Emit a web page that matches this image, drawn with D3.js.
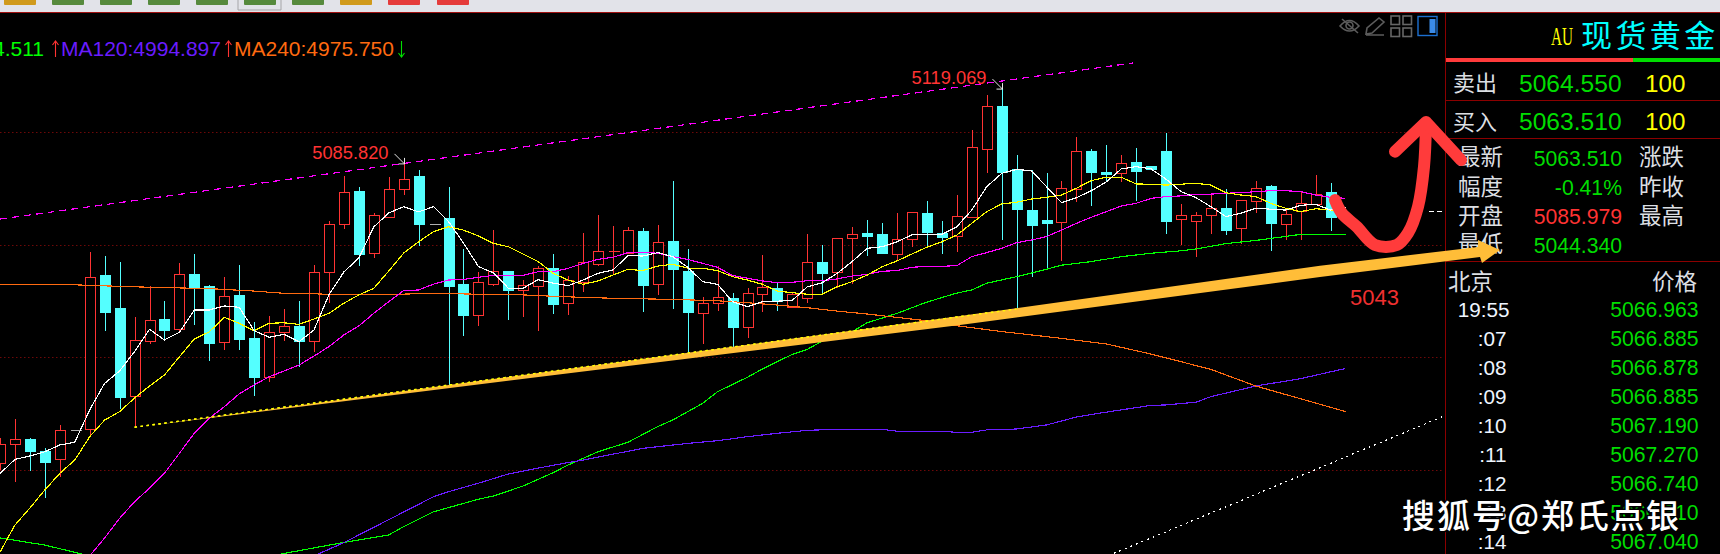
<!DOCTYPE html>
<html><head><meta charset="utf-8">
<script src="https://cdnjs.cloudflare.com/ajax/libs/d3/7.8.5/d3.min.js"></script>
<style>html,body{margin:0;padding:0;background:#000;overflow:hidden}svg{display:block}</style>
</head><body><svg id="c" width="1720" height="554"></svg>
<script>
const opens=[4952.9,4961.2,4963.4,4958.2,4954.8,4967.4,4967.9,5036.4,5021.8,4982.8,
5007.2,5016.9,5012.6,5036.9,5031.6,5006.8,5027.6,5008.4,4991.2,5011.2,
5013.8,5007.2,5037.9,5059.0,5073.8,5046.4,5062.4,5074.5,5080.4,5059.0,
5061.8,5032.4,5018.8,5032.6,5038.2,5029.9,5031.7,5039.6,5024.1,5033.2,
5041.5,5047.0,5046.2,5056.0,5032.6,5051.6,5038.2,5019.7,5024.1,5026.2,
5013.5,5028.1,5030.7,5022.1,5026.4,5042.2,5037.9,5053.0,5055.1,5054.7,
5045.9,5052.6,5064.0,5055.2,5053.9,5062.4,5092.6,5111.6,5083.4,5065.3,
5060.9,5060.1,5074.7,5091.6,5082.2,5081.9,5086.7,5084.9,5091.6,5061.5,
5060.6,5063.2,5066.2,5057.2,5069.5,5076.0,5059.2,5064.8,5068.1,5073.3];
const closes=[4961.3,4963.4,4958.2,4953.3,4967.4,4967.4,5035.4,5020.1,4982.2,5007.4,
5016.3,5012.0,5036.9,5031.1,5006.2,5027.0,5008.0,4991.2,5011.0,5013.6,
5007.1,5037.6,5059.0,5073.2,5045.8,5063.0,5074.5,5079.2,5059.2,5059.0,
5031.7,5018.8,5033.2,5038.4,5029.8,5031.9,5039.4,5023.6,5034.1,5042.1,
5047.0,5047.0,5056.3,5032.0,5051.0,5039.1,5020.0,5023.9,5026.5,5013.3,
5028.3,5031.0,5024.8,5027.9,5042.1,5037.3,5052.8,5054.5,5053.8,5046.2,
5052.3,5064.3,5055.6,5053.3,5062.5,5093.2,5111.4,5082.2,5065.9,5058.7,
5059.6,5075.0,5091.4,5082.2,5081.3,5086.1,5082.7,5083.6,5060.4,5063.0,
5063.0,5066.1,5056.4,5069.6,5075.2,5059.7,5063.4,5068.6,5072.6,5062.2];
const highs=[4964.0,4972.4,4964.1,4959.4,4969.8,4967.4,5046.5,5044.9,5042.2,5017.8,
5031.6,5024.9,5041.6,5045.8,5032.0,5035.6,5040.9,5015.6,5018.2,5021.3,
5024.9,5040.9,5060.4,5080.4,5075.6,5063.9,5080.0,5085.82,5083.0,5059.0,
5075.6,5048.0,5037.6,5056.4,5038.2,5034.2,5040.4,5045.8,5036.0,5055.1,
5063.1,5058.2,5057.6,5057.3,5058.7,5078.2,5048.0,5026.5,5040.4,5028.4,
5030.7,5045.3,5032.9,5028.3,5054.7,5049.8,5052.8,5057.6,5060.9,5059.6,
5063.9,5064.3,5069.3,5060.4,5072.0,5100.9,5116.3,5119.069,5089.8,5083.1,
5081.8,5078.2,5097.6,5092.3,5094.2,5089.8,5092.8,5084.9,5099.6,5068.0,
5064.4,5072.8,5074.5,5069.6,5078.2,5076.3,5065.8,5073.8,5080.9,5077.3];
const lows=[4949.8,4944.6,4949.3,4937.5,4946.5,4967.4,4965.3,5011.7,4976.9,4968.8,
5005.8,5007.2,5010.8,5014.2,4998.2,5003.1,5003.1,4982.7,4989.0,5007.2,
4995.7,5002.4,5024.0,5056.9,5040.6,5044.1,5062.4,5072.0,5049.5,5059.0,
4987.6,5009.5,5013.9,5031.7,5016.4,5017.9,5011.6,5019.1,5018.7,5028.9,
5040.4,5036.8,5045.6,5020.1,5027.6,5021.3,5001.9,5005.8,5020.4,5004.6,
5008.6,5020.0,5020.4,5022.1,5024.0,5027.9,5030.8,5032.4,5044.9,5046.2,
5043.1,5048.9,5049.3,5045.8,5046.7,5062.4,5081.8,5052.0,5021.3,5035.7,
5039.0,5042.7,5069.0,5067.1,5077.9,5077.9,5069.3,5083.6,5054.7,5049.8,
5044.6,5054.7,5054.2,5050.2,5064.0,5047.1,5052.0,5052.0,5068.1,5056.0];

const maWhite=[4948.2,4954.5,4956.0,4957.9,4960.9,4962.1,4976.5,4988.3,4993.8,5002.4,
5012.3,5007.6,5011.0,5020.9,5020.9,5022.7,5022.1,5011.7,5008.8,5010.1,
5006.8,5012.0,5027.6,5037.8,5044.0,5057.8,5064.0,5066.8,5064.5,5066.8,
5060.2,5050.7,5040.2,5037.4,5030.6,5030.6,5034.4,5032.8,5031.7,5034.2,
5037.2,5038.7,5045.0,5044.9,5046.4,5044.6,5039.9,5033.5,5032.3,5024.6,
5022.4,5024.6,5024.8,5025.2,5031.2,5033.0,5037.2,5042.4,5048.3,5049.0,
5051.2,5054.3,5054.5,5054.5,5057.9,5065.3,5075.7,5081.6,5083.4,5082.7,
5075.7,5068.6,5070.8,5073.9,5077.8,5083.6,5084.6,5083.6,5079.0,5073.5,
5070.8,5066.8,5062.4,5063.9,5066.1,5065.7,5065.3,5067.4,5067.9,5065.3,5066.7];
const maYellow=[4913.3,4925.3,4932.9,4940.9,4948.3,4954.2,4964.6,4972.0,4975.7,4981.8,
4987.1,4992.0,5000.1,5008.0,5011.2,5017.6,5015.0,5011.7,5015.0,5015.2,
5014.5,5016.9,5019.4,5023.9,5027.6,5030.5,5038.2,5046.2,5051.2,5055.7,
5057.9,5056.4,5053.8,5050.5,5049.0,5045.7,5042.4,5037.2,5034.2,5032.3,
5033.8,5036.4,5039.0,5038.4,5040.4,5041.2,5039.5,5039.4,5038.4,5035.7,
5034.2,5032.3,5029.3,5028.6,5027.9,5027.9,5031.2,5033.5,5036.4,5040.1,
5042.7,5045.8,5048.8,5051.2,5054.2,5059.4,5064.6,5068.0,5068.8,5070.2,
5071.0,5072.0,5075.0,5078.4,5079.9,5079.9,5076.9,5076.8,5076.4,5076.8,
5077.2,5076.4,5073.0,5072.0,5071.3,5068.3,5066.1,5064.6,5065.9,5065.3,5064.9];
const maMagenta=[null,null,null,null,null,null,4911.6,4919.6,4928.3,4935.7,
4941.7,4948.3,4957.2,4966.1,4972.8,4977.9,4983.6,4987.6,4991.2,4993.8,
4996.4,5000.4,5004.6,5009.8,5013.8,5019.4,5024.6,5029.5,5029.8,5032.4,
5034.2,5034.5,5035.4,5036.3,5036.3,5036.3,5037.9,5037.9,5039.4,5041.6,
5043.4,5044.3,5046.4,5046.5,5046.1,5044.6,5043.4,5041.6,5039.9,5036.2,
5035.0,5033.8,5033.0,5033.2,5033.9,5033.9,5034.7,5036.0,5036.7,5038.1,
5038.4,5039.9,5040.2,5040.3,5040.6,5044.6,5046.4,5048.3,5050.8,5052.0,
5053.5,5056.4,5059.4,5062.1,5064.6,5067.1,5068.3,5070.5,5071.3,5071.6,
5072.3,5072.4,5072.8,5073.0,5073.5,5073.9,5073.9,5073.5,5072.0,5071.0,5070.5];
const ma60Index=[0,3,6,18,19,23,26,27,29,32,33,35,37,38,40,42,44,45,47,48,50,51,53,54,55,57,58,60,62,64,65,66,68,70,71,73,75,77,79,80,82,84,85,87,90];
const ma60Values=[4919.6,4916.4,4911.6,4911.1,4912.7,4917.6,4920.9,4924.6,4931.2,4936.8,4938.2,4942.7,4948.6,4952.0,4957.9,4962.1,4969.1,4972.0,4979.4,4984.6,4991.0,4994.7,5001.2,5003.4,5007.1,5011.2,5015.2,5019.4,5024.4,5028.4,5029.8,5032.8,5035.7,5039.0,5040.8,5042.4,5044.6,5046.1,5047.2,5048.0,5050.4,5051.8,5052.7,5054.5,5054.5];
const ma120Index=[21,23,29,30,32,34,37,39,41,43,46,48,50,52,54,56,59,60,63,64,65,66,68,70,72,74,77,78,80,81,84,87,90];
const ma120Values=[4911.6,4917.5,4937.9,4940.1,4943.9,4948.0,4951.9,4954.2,4956.8,4959.4,4961.6,4962.8,4964.6,4966.1,4967.4,4967.9,4967.9,4967.0,4967.0,4966.5,4966.5,4967.6,4968.0,4969.8,4973.3,4975.5,4978.5,4978.7,4979.9,4982.4,4987.1,4990.4,4994.897];
const ma240Index=[0,4,8,10,12,14,17,19,21,23,25,29,32,34,37,39,41,45,48,50,52,54,56,58,62,64,67,71,74,77,81,84,90];
const ma240Values=[5032.3,5032.3,5031.4,5031.0,5030.7,5030.4,5029.3,5028.3,5028.1,5027.6,5027.6,5028.3,5027.9,5027.9,5027.0,5026.5,5026.1,5025.6,5025.0,5024.1,5023.1,5021.9,5020.4,5019.1,5016.1,5013.9,5011.3,5008.3,5005.8,5001.3,4994.5,4987.1,4975.75];
const gridPrices=[5100,5050,5000,4950];
const channelTop=[[0,5061.3],[75.8,5130.7]];
const channelLow=[[74.5,4912.7],[96.5,4973.5]];
const trendYellow=[[9,4968.8],[68,5021.3]];
const peakLabels=[{text:"5085.820",i:27,price:5085.82},{text:"5119.069",i:67,price:5119.069}];
const legendItems=[{t:"MA60:5054.511",c:"#00ff00",end:44},{t:"MA120:4994.897",c:"#6a1cff",start:61},{t:"MA240:4975.750",c:"#ff6a10",start:234}];
const tickTimes=["19:55",":07",":08",":09",":10",":11",":12",":13",":14"];
const tickPrices=["5066.963","5066.885","5066.878","5066.885","5067.190","5067.270","5066.740","5066.310","5067.040"];

const svg=d3.select("#c");
const FONT="'Liberation Sans',Arial,sans-serif", CJK="'Noto Sans CJK SC',sans-serif";
const RED="#ff3333",CY="#54ffff",GR="#00dd00",DR="#8b0000";
const x=d3.scaleLinear().domain([0,90]).range([0,1345.5]);
const y=d3.scaleLinear().domain([5100,4950]).range([132,469.5]);
svg.append("rect").attr("width",1720).attr("height",554).attr("fill","#000");
svg.append("defs").append("clipPath").attr("id","pl").append("rect").attr("x",0).attr("y",13).attr("width",1445).attr("height",541);
svg.select("defs").append("filter").attr("id","bl").append("feGaussianBlur").attr("stdDeviation",0.6);

// toolbar
svg.append("rect").attr("width",1720).attr("height",12).attr("fill","#e2e3e9");
svg.append("rect").attr("y",12).attr("width",1720).attr("height",1).attr("fill","#a01010");
const btnG=svg.append("g").attr("filter","url(#bl)");
[[4,"#d09a1c"],[52,"#568a3e"],[100,"#568a3e"],[148,"#568a3e"],[196,"#568a3e"],[244,"#568a3e"],[292,"#568a3e"],[340,"#d09a1c"],[388,"#e53a3a"],[437,"#e53a3a"]].forEach(b=>{
  btnG.append("rect").attr("x",b[0]).attr("y",-3).attr("width",32).attr("height",8).attr("rx",1).attr("fill",b[1]);
});
svg.append("path").attr("d","M238 0V10H281V0").attr("fill","none").attr("stroke","#a5a5a8");

const plot=svg.append("g").attr("clip-path","url(#pl)");
// grid
plot.selectAll("line.grid").data(gridPrices).join("line").attr("x1",0).attr("x2",1443)
 .attr("y1",d=>Math.round(y(d))+.5).attr("y2",d=>Math.round(y(d))+.5)
 .attr("stroke","#6e0808").attr("stroke-dasharray","1.5 2.5");

// candles
const cx=i=>Math.round(x(i))+.5;
const candles=plot.append("g").attr("shape-rendering","crispEdges");
d3.range(opens.length).forEach(i=>{
  const o=opens[i],c=closes[i],h=highs[i],l=lows[i];
  const flat=h===l&&o===c;
  const col=flat?"#b0b0b0":(c>=o?RED:CY);
  const X=cx(i);
  const top=Math.round(y(Math.max(o,c)))+.5, bot=Math.round(y(Math.min(o,c)))+.5;
  if(!flat){
    candles.append("line").attr("x1",X).attr("x2",X).attr("y1",y(h)).attr("y2",top).attr("stroke",col);
    candles.append("line").attr("x1",X).attr("x2",X).attr("y1",bot).attr("y2",y(l)).attr("stroke",col);
  }
  if(flat||top===bot){
    candles.append("line").attr("x1",X-5).attr("x2",X+6).attr("y1",top).attr("y2",top).attr("stroke",col);
    return;
  }
  if(c>=o) candles.append("rect").attr("x",X-5).attr("y",top).attr("width",10).attr("height",bot-top).attr("fill","#000").attr("stroke",col);
  else candles.append("rect").attr("x",X-5.5).attr("y",top-.5).attr("width",11).attr("height",bot-top+1).attr("fill",col);
});

// trend and channel lines
const seg=d3.line().x(d=>x(d[0])).y(d=>y(d[1]));
plot.append("path").attr("d",seg(channelTop)).attr("fill","none").attr("stroke","#ff00ff").attr("stroke-width",1.2).attr("stroke-dasharray","7 5").attr("shape-rendering","crispEdges");
plot.append("path").attr("d",seg(channelLow)).attr("fill","none").attr("stroke","#fff").attr("stroke-width",1.2).attr("stroke-dasharray","2 4").attr("shape-rendering","crispEdges");

// moving averages
const ln=d3.line().defined(d=>d[1]!==null).x(d=>x(d[0])).y(d=>y(d[1]));
const drawMA=(idx,vals,col)=>plot.append("path").datum(vals.map((v,k)=>[idx?idx[k]:k,v])).attr("d",ln)
  .attr("fill","none").attr("stroke",col).attr("stroke-width",1.15).attr("shape-rendering","crispEdges");
drawMA(ma60Index,ma60Values,"#00ff00");
drawMA(ma120Index,ma120Values,"#6a1cff");
drawMA(ma240Index,ma240Values,"#ff6a10");
drawMA(null,maMagenta,"#ff00ff");
drawMA(null,maYellow,"#ffff00");
drawMA(null,maWhite,"#ffffff");

// peak labels and pointers
peakLabels.forEach(p=>{
  const px=cx(p.i),py=y(p.price);
  plot.append("text").text(p.text).attr("x",px-16).attr("y",py-5).attr("text-anchor","end")
    .attr("font-family",FONT).attr("font-size",18.3).attr("fill",RED);
  plot.append("path").attr("d",`M${px-10} ${py-10}L${px} ${py}M${px-6} ${py}H${px}V${py-6}`).attr("fill","none").attr("stroke","#fff").attr("stroke-width",.9);
});
// current price dash
svg.append("line").attr("x1",1429).attr("x2",1444).attr("y1",211.5).attr("y2",211.5).attr("stroke","#fff").attr("stroke-dasharray","5 3");

// legend
const upArrow=(X,col,dir)=>{
  const g=svg.append("g").attr("stroke",col).attr("stroke-width",1.1).attr("fill","none");
  g.append("line").attr("x1",X).attr("x2",X).attr("y1",41).attr("y2",57);
  if(dir>0) g.append("path").attr("d",`M${X-3} 45L${X} 41L${X+3} 45`);
  else g.append("path").attr("d",`M${X-3} 53L${X} 57L${X+3} 53`);
};
legendItems.forEach(l=>{
  svg.append("text").text(l.t).attr("x",l.end!==undefined?l.end:l.start).attr("y",56)
   .attr("text-anchor",l.end!==undefined?"end":"start").attr("font-family",FONT).attr("font-size",21).attr("fill",l.c);
});
upArrow(55.5,RED,1);upArrow(228.5,RED,1);upArrow(401.5,"#00e000",-1);

// chart icons
const ic=svg.append("g").attr("fill","none").attr("stroke","#5c5c5c").attr("stroke-width",1.6);
ic.append("path").attr("d","M1340 26Q1349.5 15 1359 26Q1349.5 36 1340 26Z");
ic.append("circle").attr("cx",1349.5).attr("cy",25.5).attr("r",3.5);
ic.append("line").attr("x1",1342).attr("y1",19).attr("x2",1358).attr("y2",33);
ic.append("path").attr("d","M1366 34L1367 28L1379 18L1384 22L1372 33ZM1366 35H1384");
[[1391,16],[1403,16],[1391,28],[1403,28]].forEach(s=>ic.append("rect").attr("x",s[0]).attr("y",s[1]).attr("width",8.5).attr("height",8.5).attr("stroke","#666"));
svg.append("rect").attr("x",1418).attr("y",16.5).attr("width",19).attr("height",19).attr("fill","none").attr("stroke","#1c6fd0").attr("stroke-width",1.4);
svg.append("rect").attr("x",1429.5).attr("y",19).attr("width",6).attr("height",14).attr("fill","#3b8be8");

// right panel
const rp=svg.append("g");
rp.append("rect").attr("x",1445).attr("y",13).attr("width",1).attr("height",541).attr("fill",DR);
[100,138,261].forEach(v=>rp.append("rect").attr("x",1445).attr("y",v).attr("width",275).attr("height",1).attr("fill",DR));
rp.append("rect").attr("x",1446).attr("y",58).attr("width",187).attr("height",4).attr("fill","#ff3b3b");
rp.append("rect").attr("x",1633).attr("y",58).attr("width",87).attr("height",4).attr("fill","#00dd00");
const T=(t,X,Y,size,col,anchor,fam,extra)=>{
  const e=rp.append("text").text(t).attr("x",X).attr("y",Y).attr("font-size",size).attr("fill",col)
   .attr("text-anchor",anchor||"start").attr("font-family",fam||FONT);
  if(extra)extra(e);return e;
};
T("AU",1551,45,25,"#ffff00","start","'Liberation Serif',serif",e=>e.attr("textLength",22).attr("lengthAdjust","spacingAndGlyphs"));
T("现货黄金",1581,47,31,"#00ffff","start",CJK,e=>e.attr("letter-spacing",3.4));
const LBL="#dcdfe3";
T("卖出",1453,91,22,LBL,"start",CJK);
T("买入",1453,129.5,22,LBL,"start",CJK);
T("5064.550",1519,92.3,24.6,GR);
T("5063.510",1519,130.3,24.6,GR);
T("100",1645,92.3,24.2,"#ffff00");
T("100",1645,130.3,24.2,"#ffff00");
const statsL=["最新","幅度","开盘","最低"],statsR=["涨跌","昨收","最高",""];
const statsV=["5063.510","-0.41%","5085.979","5044.340"],statsC=[GR,GR,RED,GR];
const rowB=[165.7,195,224,252.7];
statsL.forEach((s,k)=>{
  T(s,1458,rowB[k]-.5,22.5,LBL,"start",CJK);
  T(statsV[k],1622,rowB[k],21.2,statsC[k],"end");
  if(statsR[k])T(statsR[k],1639,rowB[k]-.5,22.5,LBL,"start",CJK);
});
T("北京",1448,289.5,22.5,LBL,"start",CJK);
T("价格",1652,289.5,22.5,LBL,"start",CJK);
tickTimes.forEach((t,k)=>{
  const Y=316.7+k*29.08;
  T(t,k?1506.5:1509.5,Y,20.7,"#eef5ff","end");
  T(tickPrices[k],1698.5,Y,21.2,GR,"end");
});

// hand drawn annotations on top
svg.append("text").text("5043").attr("x",1350).attr("y",305).attr("font-family",FONT).attr("font-size",22).attr("fill","#f03030");
const arrowPts=[[150,425.5],[480,380.7],[960,316],[1320,265.7],[1478,247],[1478,240],[1500,250],[1482,263],[1480,257],[1320,277],[960,325],[480,384.2]];
svg.append("path").attr("d",d3.line()(arrowPts)+"Z").attr("fill","#ffbd38");
// dotted trend along the arrow's upper edge
plot.append("path").attr("d",seg(trendYellow)).attr("fill","none").attr("stroke","#ffff00").attr("stroke-width",1.4).attr("stroke-dasharray","2.5 3.5").raise();
svg.append("path").attr("d",seg(trendYellow)).attr("fill","none").attr("stroke","#ffff00").attr("stroke-width",1.4).attr("stroke-dasharray","2.5 3.5");
const sk=d3.line().curve(d3.curveCatmullRom);
const red=g=>svg.append("path").attr("d",g).attr("fill","none").attr("stroke","#ff3b3b").attr("stroke-width",12).attr("stroke-linecap","round").attr("stroke-linejoin","round");
red(sk([[1335,200],[1341.7,213],[1356.7,226.7],[1375,245],[1396.7,245],[1408,233],[1418,206.7],[1424,166.7],[1426,123]]));
red(d3.line()([[1395,151.7],[1426,122],[1461,160]]));
// watermark
svg.append("text").text("搜狐号@郑氏点银").attr("x",1402).attr("y",528).attr("font-family",CJK).attr("font-weight",500)
 .attr("font-size",33).attr("letter-spacing",2).attr("fill","#fff")
 .attr("stroke","#000").attr("stroke-width",3).style("paint-order","stroke");
</script></body></html>
